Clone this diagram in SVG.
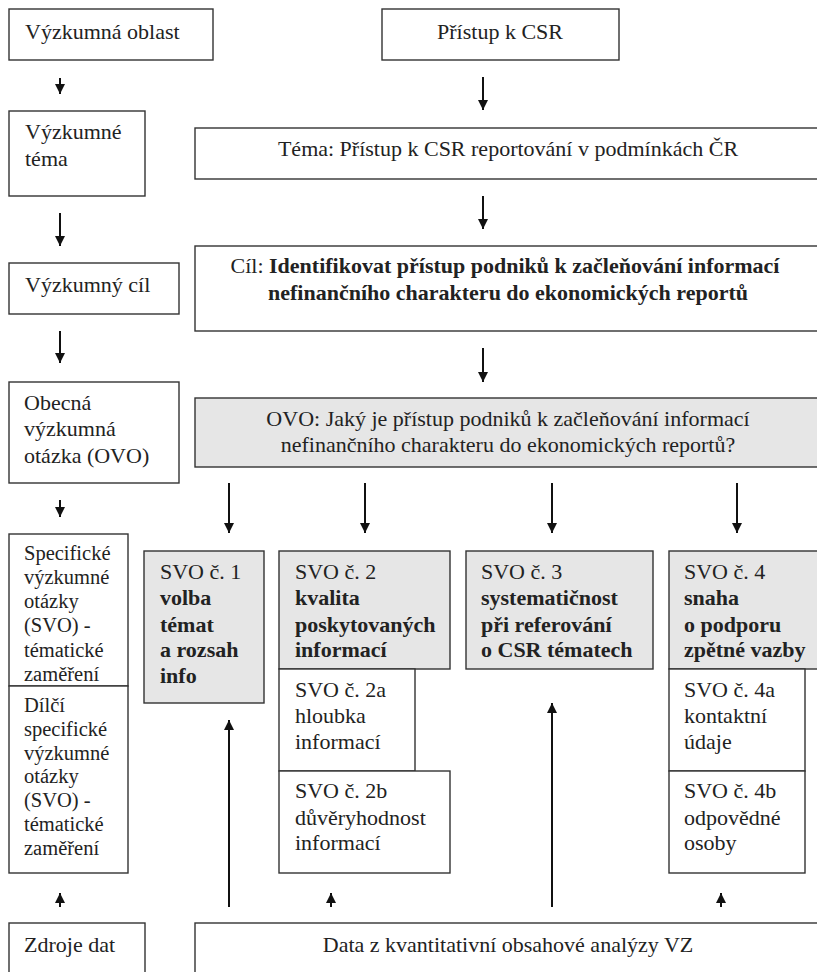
<svg xmlns="http://www.w3.org/2000/svg" width="817" height="972" viewBox="0 0 817 972">
<defs>
<style>
.box{fill:#fff;stroke:#333;stroke-width:1.4}
.g{fill:#e6e6e6;stroke:#333;stroke-width:1.4}
text{font-family:"Liberation Serif","Times New Roman",serif;font-size:22px;fill:#222}
.s{font-size:20.5px}
.b{font-weight:bold}
.m{text-anchor:middle}
.c line{stroke:#111;stroke-width:2}
</style>
<marker id="ah" viewBox="0 0 10 10" refX="10" refY="5" markerWidth="10" markerHeight="10" markerUnits="userSpaceOnUse" orient="auto">
<path d="M0,0 L10,5 L0,10 Z" fill="#111"/>
</marker>
</defs>
<rect width="817" height="972" fill="#fff"/>

<g id="n-oblast"><rect class="box" x="9" y="9" width="204" height="51"/><text x="25" y="39">Výzkumná oblast</text></g>
<g id="n-pristup"><rect class="box" x="382" y="9" width="237" height="51"/><text class="m" x="500" y="39">Přístup k CSR</text></g>
<g id="n-tema-l"><rect class="box" x="9" y="111" width="136" height="85"/><text x="25" y="139">Výzkumné</text><text x="25" y="166">téma</text></g>
<g id="n-tema"><rect class="box" x="195" y="128" width="630" height="51"/><text class="m" x="508" y="156">Téma: Přístup k CSR reportování v podmínkách ČR</text></g>
<g id="n-cil-l"><rect class="box" x="9" y="263" width="170" height="51"/><text x="25" y="292">Výzkumný cíl</text></g>
<g id="n-cil"><rect class="box" x="195" y="246" width="630" height="85"/><text class="m" x="505" y="273">Cíl: <tspan class="b">Identifikovat přístup podniků k začleňování informací</tspan></text><text class="m b" x="508" y="300">nefinančního charakteru do ekonomických reportů</text></g>
<g id="n-ovo-l"><rect class="box" x="9" y="382" width="170" height="101"/><text x="24" y="410">Obecná</text><text x="24" y="436">výzkumná</text><text x="24" y="463">otázka (OVO)</text></g>
<g id="n-ovo"><rect class="g" x="195" y="398" width="630" height="69"/><text class="m" x="508" y="426">OVO: Jaký je přístup podniků k začleňování informací</text><text class="m" x="508" y="452">nefinančního charakteru do ekonomických reportů?</text></g>
<g id="n-svo-l"><rect class="box" x="9" y="534" width="119" height="152"/><text class="s" x="24" y="560">Specifické</text><text class="s" x="24" y="584">výzkumné</text><text class="s" x="24" y="608">otázky</text><text class="s" x="24" y="632">(SVO) -</text><text class="s" x="24" y="657">tématické</text><text class="s" x="24" y="681">zaměření</text></g>
<g id="n-dsvo-l"><rect class="box" x="9" y="686" width="119" height="187"/><text class="s" x="24" y="712">Dílčí</text><text class="s" x="24" y="736">specifické</text><text class="s" x="24" y="760">výzkumné</text><text class="s" x="24" y="783">otázky</text><text class="s" x="24" y="807">(SVO) -</text><text class="s" x="24" y="831">tématické</text><text class="s" x="24" y="855">zaměření</text></g>
<g id="n-svo1"><rect class="g" x="144" y="551" width="120" height="152"/><text x="160" y="579">SVO č. 1</text><text class="b" x="160" y="605">volba</text><text class="b" x="160" y="632">témat</text><text class="b" x="160" y="657">a rozsah</text><text class="b" x="160" y="683">info</text></g>
<g id="n-svo2"><rect class="g" x="279" y="551" width="171" height="118"/><text x="295" y="579">SVO č. 2</text><text class="b" x="295" y="605">kvalita</text><text class="b" x="295" y="632">poskytovaných</text><text class="b" x="295" y="657">informací</text></g>
<g id="n-svo2a"><rect class="box" x="279" y="669" width="136" height="102"/><text x="295" y="697">SVO č. 2a</text><text x="295" y="723">hloubka</text><text x="295" y="749">informací</text></g>
<g id="n-svo2b"><rect class="box" x="279" y="771" width="171" height="102"/><text x="295" y="798">SVO č. 2b</text><text x="295" y="825">důvěryhodnost</text><text x="295" y="850">informací</text></g>
<g id="n-svo3"><rect class="g" x="466" y="551" width="187" height="118"/><text x="481" y="579">SVO č. 3</text><text class="b" x="481" y="605">systematičnost</text><text class="b" x="481" y="632">při referování</text><text class="b" x="481" y="657">o CSR tématech</text></g>
<g id="n-svo4"><rect class="g" x="669" y="551" width="160" height="118"/><text x="684" y="579">SVO č. 4</text><text class="b" x="684" y="605">snaha</text><text class="b" x="684" y="632">o podporu</text><text class="b" x="684" y="657">zpětné vazby</text></g>
<g id="n-svo4a"><rect class="box" x="669" y="669" width="136" height="102"/><text x="684" y="697">SVO č. 4a</text><text x="684" y="723">kontaktní</text><text x="684" y="749">údaje</text></g>
<g id="n-svo4b"><rect class="box" x="669" y="771" width="136" height="102"/><text x="684" y="798">SVO č. 4b</text><text x="684" y="825">odpovědné</text><text x="684" y="850">osoby</text></g>
<g id="n-zdroje"><rect class="box" x="9" y="923" width="136" height="80"/><text x="24" y="952">Zdroje dat</text></g>
<g id="n-data"><rect class="box" x="195" y="923" width="630" height="80"/><text class="m" x="508" y="952">Data z kvantitativní obsahové analýzy VZ</text></g>

<g id="connectors" class="c">
<line x1="60" y1="78" x2="60" y2="94" marker-end="url(#ah)"/>
<line x1="483" y1="77" x2="483" y2="110" marker-end="url(#ah)"/>
<line x1="60" y1="213" x2="60" y2="246" marker-end="url(#ah)"/>
<line x1="483" y1="196" x2="483" y2="229" marker-end="url(#ah)"/>
<line x1="60" y1="331" x2="60" y2="363" marker-end="url(#ah)"/>
<line x1="483" y1="348" x2="483" y2="382" marker-end="url(#ah)"/>
<line x1="60" y1="500" x2="60" y2="517" marker-end="url(#ah)"/>
<line x1="229" y1="483" x2="229" y2="533" marker-end="url(#ah)"/>
<line x1="365" y1="483" x2="365" y2="533" marker-end="url(#ah)"/>
<line x1="552" y1="483" x2="552" y2="533" marker-end="url(#ah)"/>
<line x1="737" y1="483" x2="737" y2="533" marker-end="url(#ah)"/>
<line x1="229" y1="907" x2="229" y2="720" marker-end="url(#ah)"/>
<line x1="552" y1="907" x2="552" y2="703" marker-end="url(#ah)"/>
<line x1="60" y1="907" x2="60" y2="893" marker-end="url(#ah)"/>
<line x1="331" y1="907" x2="331" y2="893" marker-end="url(#ah)"/>
<line x1="721" y1="907" x2="721" y2="893" marker-end="url(#ah)"/>
</g>
</svg>
